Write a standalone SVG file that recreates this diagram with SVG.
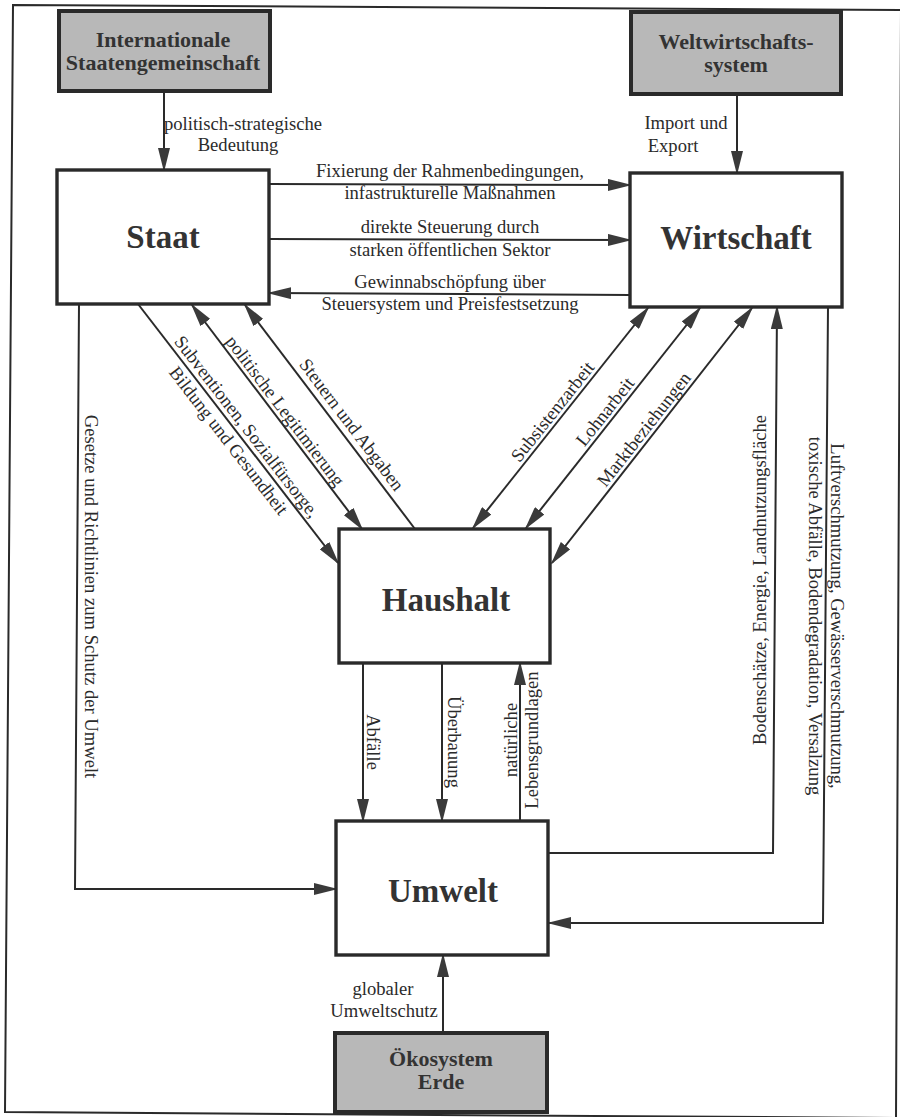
<svg xmlns="http://www.w3.org/2000/svg" width="900" height="1117" viewBox="0 0 900 1117">
<defs>
<marker id="ah" markerUnits="userSpaceOnUse" markerWidth="24" markerHeight="12" refX="22" refY="6" orient="auto-start-reverse" viewBox="0 0 24 12"><path d="M0,0 L24,6 L0,12 Z" fill="#3a3a3a"/></marker>
</defs>
<style>
.box{fill:#fff;stroke:#2a2a2a;stroke-width:3.4}
.gbox{fill:#b8b8b8;stroke:#2a2a2a;stroke-width:4}
.ln{fill:none;stroke:#2a2a2a;stroke-width:2}
.t{font-family:"Liberation Serif","Times New Roman",serif;font-size:18.6px;fill:#2b2b2b;text-anchor:middle}
.big{font-family:"Liberation Serif","Times New Roman",serif;font-weight:bold;font-size:33px;fill:#333;text-anchor:middle}
.gl{font-family:"Liberation Serif","Times New Roman",serif;font-weight:bold;font-size:22px;fill:#333;text-anchor:middle}
</style>
<rect x="0" y="0" width="900" height="1117" fill="#fff"/>
<path d="M13,5 L901,10 L896,1118 L5,1112 Z" fill="none" stroke="#2a2a2a" stroke-width="2"/>

<g id="connectors">
<path class="ln" d="M164,91 L164,170" marker-end="url(#ah)"/>
<path class="ln" d="M737,94 L737,173" marker-end="url(#ah)"/>
<path class="ln" d="M269,184 L630,185" marker-end="url(#ah)"/>
<path class="ln" d="M269,239 L630,240" marker-end="url(#ah)"/>
<path class="ln" d="M630,295 L269,293" marker-end="url(#ah)"/>
<path class="ln" d="M138,304 L338,563" marker-end="url(#ah)"/>
<path class="ln" d="M192,305 L362,529" marker-start="url(#ah)" marker-end="url(#ah)"/>
<path class="ln" d="M415,529 L245,305" marker-end="url(#ah)"/>
<path class="ln" d="M473,528 L648,308" marker-start="url(#ah)" marker-end="url(#ah)"/>
<path class="ln" d="M526,528 L700,308" marker-start="url(#ah)" marker-end="url(#ah)"/>
<path class="ln" d="M552,563 L752,308" marker-start="url(#ah)" marker-end="url(#ah)"/>
<path class="ln" d="M79,304 L75,889 L336,889" marker-end="url(#ah)"/>
<path class="ln" d="M548,853 L773,853 L777,307" marker-end="url(#ah)"/>
<path class="ln" d="M828,307 L823,923 L549,923" marker-end="url(#ah)"/>
<path class="ln" d="M363,663 L363,821" marker-end="url(#ah)"/>
<path class="ln" d="M442,663 L442,821" marker-end="url(#ah)"/>
<path class="ln" d="M520,821 L520,663" marker-end="url(#ah)"/>
<path class="ln" d="M443,1033 L443,955" marker-end="url(#ah)"/>
</g>

<g id="connector-labels">
<text class="t" x="243" y="130">politisch-strategische</text>
<text class="t" x="238" y="151">Bedeutung</text>
<text class="t" x="686" y="129">Import und</text>
<text class="t" x="673" y="152">Export</text>
<text class="t" x="450" y="177">Fixierung der Rahmenbedingungen,</text>
<text class="t" x="450" y="199">infastrukturelle Maßnahmen</text>
<text class="t" x="450" y="233">direkte Steuerung durch</text>
<text class="t" x="450" y="256">starken öffentlichen Sektor</text>
<text class="t" x="450" y="288">Gewinnabschöpfung über</text>
<text class="t" x="450" y="310">Steuersystem und Preisfestsetzung</text>
<g transform="translate(238,433.5) rotate(52.3)">
<text class="t" x="0" y="-5">Subventionen, Sozialfürsorge,</text>
<text class="t" x="0" y="18">Bildung und Gesundheit</text>
</g>
<text class="t" transform="translate(277,417) rotate(52.8)" x="0" y="-4">politische Legitimierung</text>
<text class="t" transform="translate(342,432) rotate(52.8)" x="0" y="-6">Steuern und Abgaben</text>
<text class="t" transform="translate(560.5,418) rotate(-51.5)" x="0" y="-4">Subsistenzarbeit</text>
<text class="t" transform="translate(613,418) rotate(-51.7)" x="0" y="-4">Lohnarbeit</text>
<text class="t" transform="translate(652,435.5) rotate(-51.9)" x="0" y="-4">Marktbeziehungen</text>
<text class="t" transform="translate(85,596.5) rotate(90)" x="0" y="0">Gesetze und Richtlinien zum Schutz der Umwelt</text>
<text class="t" transform="translate(766,580) rotate(-90)" x="0" y="0">Bodenschätze, Energie, Landnutzungsfläche</text>
<g transform="translate(831,616) rotate(90)">
<text class="t" x="0" y="0">Luftverschmutzung, Gewässerverschmutzung,</text>
<text class="t" x="0" y="22">toxische Abfälle, Bodendegradation, Versalzung</text>
</g>
<text class="t" transform="translate(367,742) rotate(90)" x="0" y="0">Abfälle</text>
<text class="t" transform="translate(448,742) rotate(90)" x="0" y="0">Überbauung</text>
<g transform="translate(517,740) rotate(-90)">
<text class="t" x="0" y="0">natürliche</text>
<text class="t" x="0" y="21">Lebensgrundlagen</text>
</g>
<text class="t" x="383" y="995">globaler</text>
<text class="t" x="384" y="1017">Umweltschutz</text>
</g>

<g id="node-international">
<rect class="gbox" x="59" y="11" width="211" height="80"/>
<text class="gl" x="163" y="47">Internationale</text>
<text class="gl" x="163" y="70">Staatengemeinschaft</text>
</g>
<g id="node-weltwirtschaft">
<rect class="gbox" x="631" y="12" width="210" height="82"/>
<text class="gl" x="736" y="49">Weltwirtschafts-</text>
<text class="gl" x="736" y="72">system</text>
</g>
<g id="node-staat">
<rect class="box" x="57" y="170" width="212" height="134"/>
<text class="big" x="163" y="248">Staat</text>
</g>
<g id="node-wirtschaft">
<rect class="box" x="630" y="173" width="212" height="134"/>
<text class="big" x="736" y="249">Wirtschaft</text>
</g>
<g id="node-haushalt">
<rect class="box" x="339" y="529" width="211" height="134"/>
<text class="big" x="446" y="611">Haushalt</text>
</g>
<g id="node-umwelt">
<rect class="box" x="336" y="821" width="212" height="134"/>
<text class="big" x="443" y="902">Umwelt</text>
</g>
<g id="node-oekosystem">
<rect class="gbox" x="335" y="1033" width="212" height="79"/>
<text class="gl" x="441" y="1066">Ökosystem</text>
<text class="gl" x="441" y="1089">Erde</text>
</g>
</svg>
